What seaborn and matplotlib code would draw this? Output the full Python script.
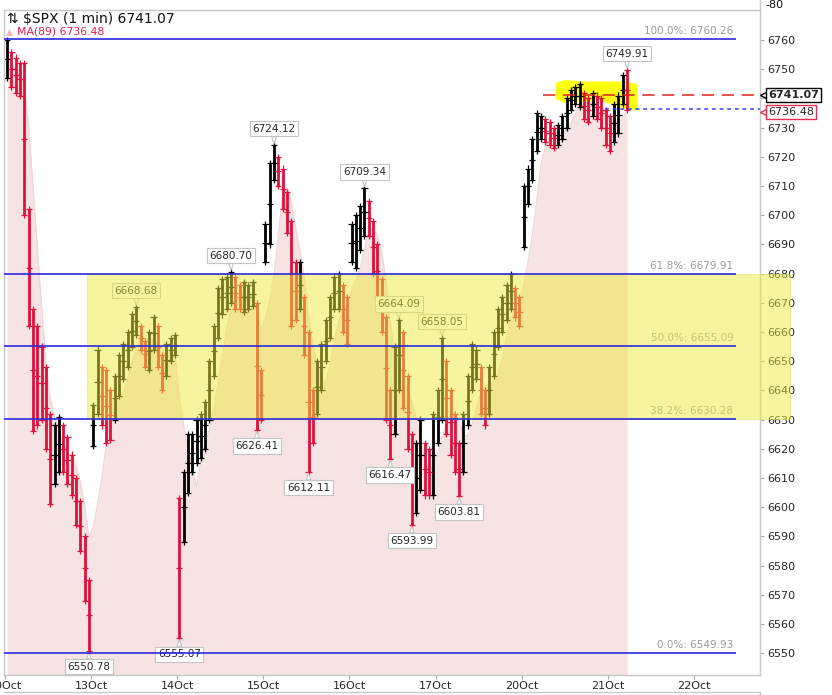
import numpy as np
import pandas as pd
import matplotlib
matplotlib.use("Agg")
import matplotlib.pyplot as plt
import matplotlib.transforms as mtransforms
from matplotlib.patches import Rectangle
from matplotlib.lines import Line2D
import seaborn as sns

# ---------------- data ----------------
day_labels = ["10Oct", "13Oct", "14Oct", "15Oct", "16Oct", "17Oct", "20Oct", "21Oct", "22Oct"]
bars_per_day = 20

hi_10oct = [6760, 6756, 6754, 6752, 6752, 6702, 6668, 6662, 6655, 6648,
            6632, 6628, 6631, 6628, 6624, 6618, 6610, 6602, 6590, 6575]
lo_10oct = [6747, 6744, 6742, 6741, 6700, 6662, 6626, 6628, 6630, 6620,
            6601, 6608, 6612, 6612, 6608, 6604, 6594, 6585, 6568, 6550.78]
hi_13oct = [6635, 6654, 6648, 6647, 6640, 6645, 6652, 6656, 6660, 6666,
            6668.68, 6662, 6657, 6660, 6665, 6662, 6652, 6656, 6658, 6659]
lo_13oct = [6621, 6632, 6628, 6622, 6623, 6630, 6638, 6644, 6648, 6655,
            6659, 6654, 6648, 6647, 6654, 6648, 6640, 6645, 6650, 6652]
hi_14oct = [6603, 6612, 6625, 6625, 6630, 6632, 6636, 6650, 6662, 6675,
            6678, 6679, 6680.70, 6679, 6676, 6677, 6676, 6677, 6670, 6647]
lo_14oct = [6555.07, 6588, 6605, 6612, 6615, 6617, 6620, 6630, 6645, 6658,
            6666, 6668, 6670, 6668, 6668, 6667, 6668, 6669, 6626.41, 6630]
hi_15oct = [6697, 6718, 6724.12, 6720, 6716, 6708, 6698, 6684, 6684, 6672,
            6660, 6640, 6650, 6656, 6664, 6672, 6679, 6680, 6676, 6672]
lo_15oct = [6684, 6690, 6712, 6710, 6702, 6694, 6662, 6664, 6668, 6652,
            6612.11, 6622, 6632, 6640, 6650, 6658, 6668, 6668, 6660, 6656]
hi_16oct = [6697, 6700, 6703, 6709.34, 6705, 6698, 6690, 6678, 6665, 6640,
            6655, 6664.09, 6660, 6645, 6625, 6622, 6630, 6622, 6620, 6632]
lo_16oct = [6684, 6682, 6688, 6693, 6693, 6680, 6672, 6660, 6630, 6616.47,
            6625, 6640, 6634, 6620, 6593.99, 6598, 6606, 6604, 6604, 6604]
hi_17oct = [6640, 6658.05, 6650, 6640, 6632, 6622, 6632, 6645, 6656, 6654,
            6648, 6640, 6648, 6660, 6668, 6672, 6676, 6680, 6675, 6672]
lo_17oct = [6622, 6630, 6625, 6618, 6612, 6603.81, 6612, 6628, 6640, 6644,
            6632, 6628, 6632, 6645, 6655, 6660, 6664, 6668, 6665, 6662]
hi_20oct = [6710, 6716, 6726, 6735, 6734, 6733, 6732, 6730, 6731, 6734,
            6740, 6743, 6744, 6745, 6742, 6740, 6742, 6741, 6740, 6736]
lo_20oct = [6689, 6704, 6712, 6722, 6726, 6725, 6724, 6723, 6724, 6726,
            6730, 6736, 6738, 6737, 6733, 6732, 6734, 6733, 6730, 6724]
hi_21oct = [6734, 6738, 6741, 6748, 6749.91]
lo_21oct = [6722, 6725, 6728, 6738, 6736]

highs = [hi_10oct, hi_13oct, hi_14oct, hi_15oct, hi_16oct, hi_17oct, hi_20oct, hi_21oct]
lows = [lo_10oct, lo_13oct, lo_14oct, lo_15oct, lo_16oct, lo_17oct, lo_20oct, lo_21oct]

fib_pct = ["100.0%", "61.8%", "50.0%", "38.2%", "0.0%"]
fib_val = [6760.26, 6679.91, 6655.09, 6630.28, 6549.93]

ann_high = [6749.91, 6724.12, 6709.34, 6680.70, 6668.68, 6664.09, 6658.05]
ann_low = [6626.41, 6612.11, 6616.47, 6593.99, 6603.81, 6550.78, 6555.07]

last_price = 6741.07
ma_last = 6736.48
ma_period = 89

# highlighter blob around the latest prices
hl_t = [6.39, 6.50, 6.70, 6.90, 7.05, 7.20, 7.34]
hl_top = [6745.5, 6746.5, 6746.0, 6746.0, 6746.0, 6746.0, 6745.0]
hl_bot = [6740.0, 6738.5, 6739.0, 6739.5, 6738.0, 6736.5, 6736.0]

# ---------------- build frame ----------------
rows = []
for d, (hs, ls) in enumerate(zip(highs, lows)):
    for i, (h, l) in enumerate(zip(hs, ls)):
        rows.append({"t": d + (i + 0.5) / bars_per_day, "hi": h, "lo": l})
df = pd.DataFrame(rows)
df["mid"] = (df["hi"] + df["lo"]) / 2
df["up"] = df["mid"].diff().fillna(0) >= 0
win = int(round(ma_period / (390 / bars_per_day)))
df["ma"] = df["mid"].rolling(win, min_periods=1).mean()

RED = "#e0103c"
BLACK = "#000000"
cols = [BLACK if u else RED for u in df["up"]]

# ---------------- figure ----------------
sns.set_style("white")
plt.rcParams["font.family"] = ["DejaVu Sans"]

W, H = 832, 695
fig = plt.figure(figsize=(W / 100, H / 100), dpi=100)
ax = fig.add_axes([4 / W, 20 / H, 756 / W, 665 / H])

px_per_day = 86.1
x0px = 5.0
def tpx(px):
    return (px - x0px) / px_per_day

xmin, xmax = tpx(4), tpx(760)
ymin, ymax = 6542.5, 6770.3
ax.set_xlim(xmin, xmax)
ax.set_ylim(ymin, ymax)

# MA(89) area
ax.fill_between(df["t"], ymin, df["ma"], color="#f6e3e3", lw=0, zorder=0.5)
sns.lineplot(x=df["t"], y=df["ma"], ax=ax, color="#f2d2d2", lw=0.8, zorder=0.6)

# highlighter
ax.fill_between(hl_t, hl_bot, hl_top, color="#ffff00", alpha=0.95, lw=0, zorder=1)

# price bars
ax.vlines(df["t"], df["lo"], df["hi"], colors=cols, lw=2.0, zorder=2)
for col_name in ["hi", "lo", "mid"]:
    ax.scatter(df["t"], df[col_name], marker="+", s=20, c=cols, lw=0.9, zorder=2.1)

# fibonacci lines
fib_end = tpx(736)
for p, v in zip(fib_pct, fib_val):
    ax.hlines(v, xmin, fib_end, color="#2a2ae0", lw=1.2, zorder=3.5)
    ax.text(fib_end - 0.03, v + 1.0, f"{p}: {v:.2f}", ha="right", va="bottom",
            fontsize=7.5, color="#9a9a9a", zorder=2.8)

# yellow retracement zone (extends past the axis)
rect = Rectangle((tpx(87), fib_val[3]), tpx(790) - tpx(87), fib_val[1] - fib_val[3],
                 facecolor="#eeea3a", alpha=0.5, edgecolor="#e6df50", lw=0.8,
                 zorder=3, clip_on=False)
ax.add_patch(rect)

# current price + MA lines
ax.hlines(last_price, tpx(543), xmax, color="#e02020", lw=1.1,
          linestyles=(0, (8, 5)), zorder=2.5)
ax.hlines(ma_last, tpx(605), xmax, color="#3a3aff", lw=1.1,
          linestyles=(0, (2.5, 2.5)), zorder=2.5)

# annotations
def find_t(v, key):
    idx = (df[key] - v).abs().idxmin()
    return df.loc[idx, "t"]

box = dict(boxstyle="square,pad=0.25", fc="white", ec="#c4c4c4", lw=0.8)
arr = dict(arrowstyle="wedge,tail_width=0.45", fc="white", ec="#c4c4c4", lw=0.8,
           shrinkA=0, shrinkB=1)
for v in ann_high:
    ax.annotate(f"{v:.2f}", xy=(find_t(v, "hi"), v), xytext=(0, 11),
                textcoords="offset pixels", ha="center", va="bottom", fontsize=7.5,
                bbox=box, arrowprops=arr, zorder=2.7)
for v in ann_low:
    ax.annotate(f"{v:.2f}", xy=(find_t(v, "lo"), v), xytext=(0, -11),
                textcoords="offset pixels", ha="center", va="top", fontsize=7.5,
                bbox=box, arrowprops=arr, zorder=2.7)

# axes styling (the 6740 label sits under the last-price tag)
yt = np.arange(6550, 6761, 10)
ax.yaxis.tick_right()
ax.set_yticks(yt)
ax.set_yticklabels(["" if v == 6740 else str(v) for v in yt])
ax.tick_params(axis="y", labelsize=8, length=3, color="#aaaaaa", pad=2, right=True, left=False)
ax.set_xticks(range(len(day_labels)))
ax.set_xticklabels(day_labels)
ax.tick_params(axis="x", labelsize=8, length=3, color="#aaaaaa", pad=1, bottom=True)
ax.set_xlabel("")
ax.set_ylabel("")
for s in ax.spines.values():
    s.set_color("#c8c8c8")
    s.set_linewidth(1)

# right-side price tags
trans = mtransforms.blended_transform_factory(ax.transAxes, ax.transData)
tag_x = 1.011
for val, y, ec, bold, z in [(last_price, last_price, "#000000", "bold", 6),
                            (ma_last, ma_last - 1.2, "#e03050", "normal", 5.9)]:
    ax.plot([tag_x - 0.004], [y], marker="<", ms=6.5, mfc="white", mec=ec, mew=1.0,
            transform=trans, clip_on=False, zorder=z - 0.05)
    ax.text(tag_x, y, f"{val:.2f}", transform=trans, ha="left", va="center",
            fontsize=8, fontweight=bold, zorder=z, clip_on=False,
            bbox=dict(boxstyle="square,pad=0.18", fc="white", ec=ec, lw=1.0))

# header
fig.text(7 / W, 1 - 19 / H, "\u21c5 \\$SPX (1 min) 6741.07", fontsize=10, va="center", color="#111111")
fig.text(6 / W, 1 - 32 / H, "\u25b2", fontsize=6.5, va="center", color="#f0b4bc")
fig.text(17 / W, 1 - 32 / H, f"MA({ma_period}) {ma_last:.2f}", fontsize=7.8, va="center", color="#e0204a")

# neighbouring panels (top and bottom strips)
fig.add_artist(Line2D([760 / W, 760 / W], [1 - 10 / H, 1.0], color="#c8c8c8", lw=1))
fig.text(765 / W, 1 - 5 / H, "-80", fontsize=8, va="center", color="#111111")
fig.add_artist(Line2D([4 / W, 760 / W], [3 / H, 3 / H], color="#c8c8c8", lw=1))
fig.add_artist(Line2D([760 / W, 760 / W], [0, 3 / H], color="#c8c8c8", lw=1))

fig.savefig("out.png", dpi=100)
